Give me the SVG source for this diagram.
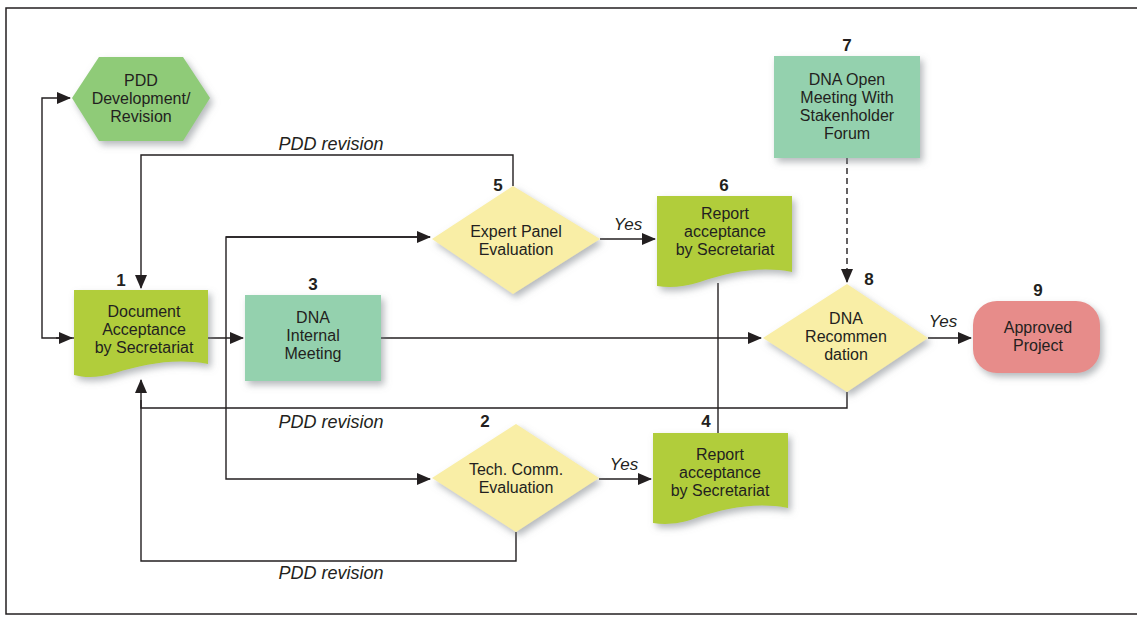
<svg xmlns="http://www.w3.org/2000/svg" width="1137" height="619" viewBox="0 0 1137 619">
<style>
.t{font-family:"Liberation Sans",Arial,sans-serif;font-size:16px;fill:#231f20;text-anchor:middle}
.n{font-family:"Liberation Sans",Arial,sans-serif;font-size:17px;font-weight:bold;fill:#231f20;text-anchor:middle}
.l{font-family:"Liberation Sans",Arial,sans-serif;font-size:18px;font-style:italic;fill:#231f20;text-anchor:middle}
.y{font-family:"Liberation Sans",Arial,sans-serif;font-size:17px;font-style:italic;fill:#231f20;text-anchor:middle}
.c{fill:none;stroke:#231f20;stroke-width:1.4}
.doc{fill:#b1cd3a}
.hex{fill:#8fcb78}
.rect{fill:#94d1ae}
.dia{fill:#f9eea6}
.term{fill:#e78c8a}
</style>
<defs>
<marker id="ah" markerWidth="14" markerHeight="12" refX="13" refY="6" orient="auto" markerUnits="userSpaceOnUse">
<path d="M0,0 L14,6 L0,12 Z" fill="#231f20"/>
</marker>
<filter id="sh" x="-20%" y="-20%" width="150%" height="150%">
<feDropShadow dx="3" dy="4" stdDeviation="3.5" flood-color="#7a7f86" flood-opacity="0.55"/>
</filter>
</defs>
<rect x="0" y="0" width="1137" height="619" fill="#fff"/>
<rect x="6" y="8" width="1140" height="606" fill="none" stroke="#231f20" stroke-width="1.5"/>

<g id="connectors">
<path class="c" d="M74,338 H42 V98 H70" marker-end="url(#ah)"/>
<path class="c" d="M56,338 H72" marker-end="url(#ah)"/>
<path class="c" d="M513,186 V155 H141 V288" marker-end="url(#ah)"/>
<path class="c" d="M208,338 H243" marker-end="url(#ah)"/>
<path class="c" d="M430,237 H226 V479 H430" marker-end="url(#ah)"/>
<path class="c" d="M226,237 H430" marker-end="url(#ah)"/>
<path class="c" d="M381,338 H761" marker-end="url(#ah)"/>
<path class="c" d="M600,239 H655" marker-end="url(#ah)"/>
<path class="c" d="M718,283 V433"/>
<path class="c" d="M847,392 V408 H141 V380" marker-end="url(#ah)"/>
<path class="c" d="M516,532 V561 H141 V400"/>
<path class="c" d="M599,479 H651" marker-end="url(#ah)"/>
<path class="c" d="M847,158 V282" stroke-dasharray="6,4" marker-end="url(#ah)"/>
<path class="c" d="M928,338 H971" marker-end="url(#ah)"/>
<text class="l" x="331" y="150">PDD revision</text>
<text class="l" x="331" y="428">PDD revision</text>
<text class="l" x="331" y="579">PDD revision</text>
<text class="y" x="628" y="230">Yes</text>
<text class="y" x="624" y="470">Yes</text>
<text class="y" x="943" y="327">Yes</text>
</g>

<g id="node-pdd">
<polygon class="hex" filter="url(#sh)" points="72,98 99,57 183,57 210,98 183,141 99,141"/>
<text class="t" x="141" y="86">PDD</text>
<text class="t" x="141" y="104">Development/</text>
<text class="t" x="141" y="122">Revision</text>
</g>

<g id="node-1">
<path class="doc" filter="url(#sh)" d="M74,290 H208 V364 C175,358 145,364 115,373 C99,378 85,378 74,375 Z"/>
<text class="n" x="121" y="286">1</text>
<text class="t" x="144" y="317">Document</text>
<text class="t" x="144" y="335">Acceptance</text>
<text class="t" x="144" y="353">by Secretariat</text>
</g>

<g id="node-3">
<rect class="rect" filter="url(#sh)" x="245" y="295" width="136" height="86"/>
<text class="n" x="313" y="290">3</text>
<text class="t" x="313" y="323">DNA</text>
<text class="t" x="313" y="341">Internal</text>
<text class="t" x="313" y="359">Meeting</text>
</g>

<g id="node-5">
<polygon class="dia" filter="url(#sh)" points="432,239 513,186 600,239 513,294"/>
<text class="n" x="498" y="191">5</text>
<text class="t" x="516" y="237">Expert Panel</text>
<text class="t" x="516" y="255">Evaluation</text>
</g>

<g id="node-6">
<path class="doc" filter="url(#sh)" d="M657,196 H792 V272 C760,266 730,272 700,282 C684,287 670,288 657,286 Z"/>
<text class="n" x="724" y="191">6</text>
<text class="t" x="725" y="219">Report</text>
<text class="t" x="725" y="237">acceptance</text>
<text class="t" x="725" y="255">by Secretariat</text>
</g>

<g id="node-7">
<rect class="rect" filter="url(#sh)" x="774" y="56" width="146" height="102"/>
<text class="n" x="847" y="51">7</text>
<text class="t" x="847" y="85">DNA Open</text>
<text class="t" x="847" y="103">Meeting With</text>
<text class="t" x="847" y="121">Stakenholder</text>
<text class="t" x="847" y="139">Forum</text>
</g>

<g id="node-8">
<polygon class="dia" filter="url(#sh)" points="763,338 847,284 928,338 847,392"/>
<text class="n" x="869" y="285">8</text>
<text class="t" x="846" y="324">DNA</text>
<text class="t" x="846" y="342">Recommen</text>
<text class="t" x="846" y="360">dation</text>
</g>

<g id="node-9">
<rect class="term" filter="url(#sh)" x="973" y="301" width="127" height="72" rx="24" ry="24"/>
<text class="n" x="1038" y="296">9</text>
<text class="t" x="1038" y="333">Approved</text>
<text class="t" x="1038" y="351">Project</text>
</g>

<g id="node-2">
<polygon class="dia" filter="url(#sh)" points="432,478 516,424 599,478 516,532"/>
<text class="n" x="485" y="427">2</text>
<text class="t" x="516" y="475">Tech. Comm.</text>
<text class="t" x="516" y="493">Evaluation</text>
</g>

<g id="node-4">
<path class="doc" filter="url(#sh)" d="M653,433 H788 V508 C756,502 726,508 696,518 C680,524 666,525 653,523 Z"/>
<text class="n" x="706" y="427">4</text>
<text class="t" x="720" y="460">Report</text>
<text class="t" x="720" y="478">acceptance</text>
<text class="t" x="720" y="496">by Secretariat</text>
</g>
</svg>
